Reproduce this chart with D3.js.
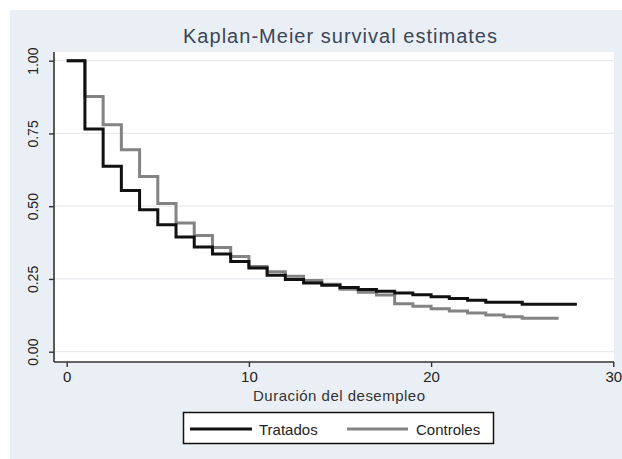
<!DOCTYPE html>
<html>
<head>
<meta charset="utf-8">
<script src="https://cdn.jsdelivr.net/npm/d3@7"></script>
<style>
  html, body { margin: 0; padding: 0; background: #ffffff; }
  svg { display: block; }
  text { font-family: "Liberation Sans", Arial, sans-serif; }
</style>
</head>
<body>
<svg id="chart" width="622" height="459"></svg>
<script>
// ---- data ----
const title = "Kaplan-Meier survival estimates";
const xTitle = "Duración del desempleo";
const seriesNames = ["Tratados", "Controles"];

const tratadosTimes  = [0, 1, 2, 3, 4, 5, 6, 7, 8, 9, 10, 11, 12, 13, 14, 15, 16, 17, 18, 19, 20, 21, 22, 23, 25];
const tratadosSurv   = [1.00, 0.765, 0.637, 0.554, 0.488, 0.436, 0.394, 0.360, 0.336, 0.310, 0.288, 0.263, 0.248, 0.236, 0.228, 0.221, 0.214, 0.208, 0.202, 0.196, 0.189, 0.183, 0.177, 0.170, 0.163];
const tratadosEnd    = 28;

const controlesTimes = [0, 1, 2, 3, 4, 5, 6, 7, 8, 9, 10, 11, 12, 13, 14, 15, 16, 17, 18, 19, 20, 21, 22, 23, 24, 25];
const controlesSurv  = [1.00, 0.877, 0.780, 0.694, 0.602, 0.509, 0.442, 0.399, 0.358, 0.327, 0.293, 0.275, 0.259, 0.245, 0.232, 0.215, 0.204, 0.195, 0.165, 0.156, 0.148, 0.140, 0.133, 0.126, 0.120, 0.115];
const controlesEnd   = 27;

const xTicks = [0, 10, 20, 30];
const yTicks = [0, 0.25, 0.5, 0.75, 1];

// ---- layout ----
const svg = d3.select("#chart");
const W = 622, H = 459;

svg.append("rect").attr("x", 10).attr("y", 10).attr("width", W - 10).attr("height", H - 10)
   .attr("fill", "#e9eff4");

const plot = { left: 54, right: 614, top: 52, bottom: 362 };
svg.append("rect").attr("x", plot.left).attr("y", plot.top)
   .attr("width", plot.right - plot.left).attr("height", plot.bottom - plot.top)
   .attr("fill", "#ffffff");

const x = d3.scaleLinear().domain([0, 30]).range([66.7, 613.3]);
const y = d3.scaleLinear().domain([0, 1]).range([351.7, 60.7]);

// gridlines
svg.append("g").selectAll("line").data(yTicks).join("line")
   .attr("x1", plot.left + 1).attr("x2", plot.right)
   .attr("y1", d => y(d)).attr("y2", d => y(d))
   .attr("stroke", "#e6eaee").attr("stroke-width", 1.2);

// axes
const yAxis = d3.axisLeft(y).tickValues(yTicks).tickFormat(d3.format(".2f")).tickSize(5).tickSizeOuter(0);
const gy = svg.append("g").attr("transform", `translate(${plot.left},0)`).call(yAxis);
gy.select(".domain").attr("d", `M0,${plot.top}V${plot.bottom}`).attr("stroke", "#333").attr("stroke-width", 1.6);
gy.selectAll(".tick line").attr("stroke", "#333").attr("stroke-width", 1.4);
gy.selectAll(".tick text")
  .attr("x", 0).attr("dy", 0)
  .attr("transform", "translate(-16,0) rotate(-90)")
  .attr("text-anchor", "middle")
  .attr("font-size", 14).attr("fill", "#222");

const xAxis = d3.axisBottom(x).tickValues(xTicks).tickSize(5).tickSizeOuter(0);
const gx = svg.append("g").attr("transform", `translate(0,${plot.bottom})`).call(xAxis);
gx.select(".domain").attr("d", `M${plot.left},0H${plot.right}`).attr("stroke", "#333").attr("stroke-width", 1.6);
gx.selectAll(".tick line").attr("stroke", "#333").attr("stroke-width", 1.4);
gx.selectAll(".tick text").attr("y", 9).attr("dy", "0.71em").attr("font-size", 15).attr("fill", "#222");

// survival step lines
function stepData(times, surv, end) {
  const pts = times.map((t, i) => [t, surv[i]]);
  pts.push([end, surv[surv.length - 1]]);
  return pts;
}
const line = d3.line().x(d => x(d[0])).y(d => y(d[1])).curve(d3.curveStepAfter);

svg.append("path").datum(stepData(controlesTimes, controlesSurv, controlesEnd))
   .attr("d", line).attr("fill", "none").attr("stroke", "#838383").attr("stroke-width", 3);
svg.append("path").datum(stepData(tratadosTimes, tratadosSurv, tratadosEnd))
   .attr("d", line).attr("fill", "none").attr("stroke", "#111").attr("stroke-width", 3);

// title
svg.append("text").attr("x", 340).attr("y", 43).attr("text-anchor", "middle")
   .attr("font-size", 20).attr("fill", "#3b4658").attr("textLength", 314)
   .text(title);

// x title
svg.append("text").attr("x", 339).attr("y", 401).attr("text-anchor", "middle")
   .attr("font-size", 15).attr("fill", "#333").attr("textLength", 172)
   .text(xTitle);

// legend
const lg = svg.append("g");
lg.append("rect").attr("x", 183.5).attr("y", 412.5).attr("width", 310).attr("height", 31)
  .attr("fill", "#fff").attr("stroke", "#111").attr("stroke-width", 1.5);
const legendItems = [
  { name: seriesNames[0], color: "#111", x0: 190, x1: 252, tx: 259 },
  { name: seriesNames[1], color: "#838383", x0: 347, x1: 408, tx: 416 }
];
legendItems.forEach(it => {
  lg.append("line").attr("x1", it.x0).attr("x2", it.x1).attr("y1", 429).attr("y2", 429)
    .attr("stroke", it.color).attr("stroke-width", 3);
  lg.append("text").attr("x", it.tx).attr("y", 434.5).attr("font-size", 15).attr("fill", "#222")
    .text(it.name);
});
</script>
</body>
</html>
